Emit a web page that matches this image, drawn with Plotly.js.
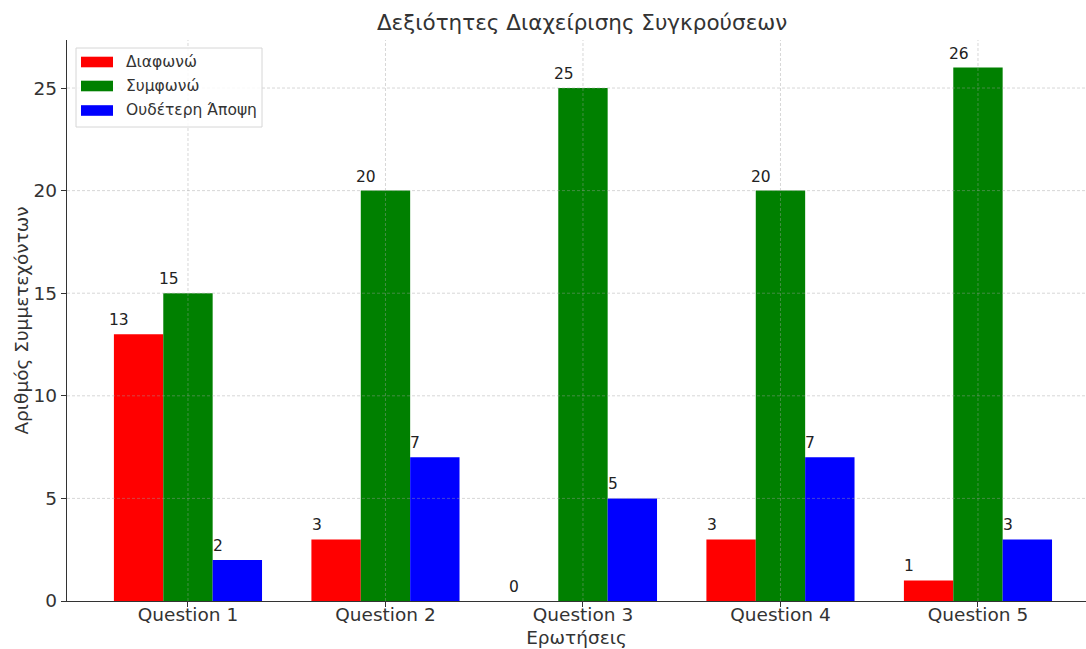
<!DOCTYPE html>
<html>
<head>
<meta charset="utf-8">
<script src="https://cdn.plot.ly/plotly-3.0.1.min.js"></script>
<style>html,body{margin:0;padding:0;background:#fff;}#chart{width:1086px;height:649px;}</style>
</head>
<body>
<div id="chart"></div>
<script>
const categories = ["Question 1", "Question 2", "Question 3", "Question 4", "Question 5"];
const seriesNames = ["Διαφωνώ", "Συμφωνώ", "Ουδέτερη Άποψη"];
const disagree = [13, 3, 0, 3, 1];
const agree = [15, 20, 25, 20, 26];
const neutral = [2, 7, 5, 7, 3];
const colors = ["#ff0000", "#008000", "#0000ff"];
const yTicks = [0, 5, 10, 15, 20, 25];

const series = [disagree, agree, neutral];
const font = "DejaVu Sans, sans-serif";
const textColor = "#333";
const barW = 0.25;

// plot area in pixels (for the hand-drawn legend)
const M = {l: 67, r: 0, t: 40, b: 48};
const W = 1086, H = 649;
const pw = W - M.l - M.r, ph = H - M.t - M.b;
const px2x = p => (p - M.l) / pw;
const px2y = p => (H - M.b - p) / ph;

const traces = series.map((vals, s) => ({
  type: "bar",
  name: seriesNames[s],
  x: categories,
  y: vals,
  marker: {color: colors[s], line: {width: 0}},
  hoverinfo: "skip",
  showlegend: false
}));

const annotations = [];
series.forEach((vals, s) => {
  vals.forEach((v, i) => {
    annotations.push({
      x: i + (s - 1) * barW - barW / 2 + 0.027,
      y: v,
      xref: "x", yref: "y",
      text: String(v),
      showarrow: false,
      xanchor: "center",
      yanchor: "bottom",
      yshift: 3,
      font: {family: font, size: 15.5, color: "#222"}
    });
  });
});

const shapes = [];
const gridLine = {color: "rgba(160,160,160,0.42)", width: 1, dash: "3px,2px"};
// vertical grid at categories (drawn above bars as in the reference)
categories.forEach((c, i) => {
  shapes.push({type: "line", xref: "x", yref: "paper", x0: i, x1: i, y0: 0, y1: 1, line: gridLine, layer: "above"});
});
yTicks.filter(t => t > 0).forEach(t => {
  shapes.push({type: "line", xref: "paper", yref: "y", x0: 0, x1: 1, y0: t, y1: t, line: gridLine, layer: "above"});
});

// hand-drawn legend (wide rectangular swatches like the reference)
shapes.push({type: "rect", xref: "paper", yref: "paper",
  x0: px2x(76), x1: px2x(262), y0: px2y(48), y1: px2y(127),
  fillcolor: "rgba(255,255,255,0.85)", line: {color: "#d6d6d6", width: 1}, layer: "above"});
const rowY = [62, 86, 110.5];
seriesNames.forEach((n, s) => {
  shapes.push({type: "rect", xref: "paper", yref: "paper",
    x0: px2x(81), x1: px2x(113), y0: px2y(rowY[s] - 5.3), y1: px2y(rowY[s] + 5.3),
    fillcolor: colors[s], line: {width: 0}, layer: "above"});
  annotations.push({xref: "paper", yref: "paper", x: px2x(124), y: px2y(rowY[s]),
    xanchor: "left", yanchor: "middle", showarrow: false, text: n,
    font: {family: font, size: 15.5, color: textColor}});
});

const layout = {
  width: W, height: H,
  margin: M,
  paper_bgcolor: "#fff", plot_bgcolor: "#fff",
  barmode: "group",
  bargap: 0.25,
  bargroupgap: 0,
  showlegend: false,
  title: {text: "Δεξιότητες Διαχείρισης Συγκρούσεων", x: 0.536, xanchor: "center", y: 0.965, yanchor: "middle",
          font: {family: font, size: 21.5, color: textColor}},
  xaxis: {
    type: "category",
    range: [-0.6125, 4.547],
    showline: true, linecolor: "#333", linewidth: 1.2,
    ticks: "outside", ticklen: 5, tickcolor: "#333",
    ticklabelstandoff: -8,
    showgrid: false,
    tickfont: {family: font, size: 18.5, color: textColor},
    title: {text: "Ερωτήσεις", font: {family: font, size: 18.5, color: textColor}, standoff: 6},
    zeroline: false
  },
  yaxis: {
    range: [0, 27.34],
    tickvals: yTicks,
    showline: true, linecolor: "#333", linewidth: 1.2,
    ticks: "outside", ticklen: 5, tickcolor: "#333",
    showgrid: false,
    tickfont: {family: font, size: 18.5, color: textColor},
    title: {text: "Αριθμός Συμμετεχόντων", font: {family: font, size: 18.5, color: textColor}, standoff: 0},
    zeroline: false
  },
  annotations: annotations,
  shapes: shapes
};

Plotly.newPlot("chart", traces, layout, {displayModeBar: false, staticPlot: true});
</script>
</body>
</html>
